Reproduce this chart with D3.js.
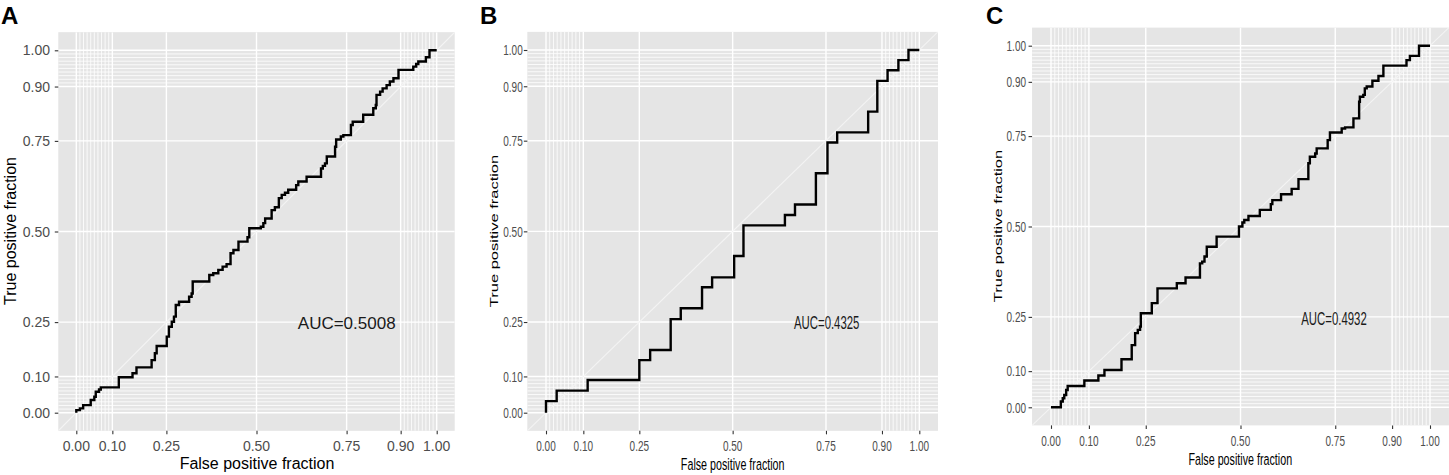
<!DOCTYPE html>
<html><head><meta charset="utf-8">
<script src="https://cdn.jsdelivr.net/npm/d3@7"></script>
<style>body{margin:0;background:#fff}svg{display:block}</style>
</head><body>
<svg id="chart" width="1449" height="475"></svg>
<script>
// ---- data ----
const majorBreaks = [0, 0.1, 0.25, 0.5, 0.75, 0.9, 1];
const tickLabels = ["0.00", "0.10", "0.25", "0.50", "0.75", "0.90", "1.00"];
const minorBreaks = [0.01, 0.02, 0.03, 0.04, 0.05, 0.06, 0.07, 0.08, 0.09,
                     0.91, 0.92, 0.93, 0.94, 0.95, 0.96, 0.97, 0.98, 0.99];
const panelLetters = ["A", "B", "C"];
const aucLabels = ["AUC=0.5008", "AUC=0.4325", "AUC=0.4932"];
const xTitle = "False positive fraction";
const yTitle = "True positive fraction";

// ROC step points (fpr at which TPR rises, TPR after rise)
const fprA = [0, 0, 0.010, 0.019, 0.040, 0.050, 0.054, 0.063, 0.068, 0.118, 0.156, 0.167, 0.209, 0.218, 0.223,
  0.251, 0.257, 0.265, 0.271, 0.276, 0.285, 0.313, 0.320, 0.323, 0.369, 0.380, 0.394, 0.406, 0.417, 0.428,
  0.436, 0.450, 0.475, 0.480, 0.512, 0.519, 0.524, 0.542, 0.551, 0.562, 0.570, 0.579, 0.588, 0.610, 0.616,
  0.639, 0.679, 0.684, 0.690, 0.695, 0.718, 0.721, 0.734, 0.741, 0.762, 0.767, 0.796, 0.824, 0.831, 0.833,
  0.843, 0.850, 0.861, 0.870, 0.880, 0.894, 0.935, 0.943, 0.949, 0.970, 0.980, 1.0];
const tprA = [0, 0.007, 0.012, 0.021, 0.035, 0.044, 0.058, 0.064, 0.070, 0.098, 0.109, 0.125, 0.145, 0.164, 0.184,
  0.210, 0.237, 0.251, 0.265, 0.297, 0.306, 0.320, 0.329, 0.362, 0.380, 0.385, 0.394, 0.403, 0.410, 0.440,
  0.449, 0.472, 0.484, 0.509, 0.513, 0.523, 0.536, 0.559, 0.567, 0.592, 0.601, 0.607, 0.615, 0.628, 0.638,
  0.651, 0.674, 0.681, 0.688, 0.707, 0.734, 0.754, 0.762, 0.766, 0.794, 0.803, 0.822, 0.840, 0.849, 0.877,
  0.886, 0.895, 0.904, 0.914, 0.923, 0.946, 0.955, 0.962, 0.969, 0.981, 1.0, 1.0];

const fprB = [0, 0, 0.0286, 0.1116, 0.250, 0.279, 0.334, 0.361, 0.418, 0.445, 0.504, 0.529, 0.640, 0.667,
  0.723, 0.754, 0.780, 0.863, 0.8875, 0.915, 0.944, 0.971, 1.0];
const tprB = [0, 0.032, 0.061, 0.090, 0.145, 0.173, 0.258, 0.288, 0.346, 0.373, 0.432, 0.5165, 0.545, 0.574,
  0.660, 0.745, 0.773, 0.830, 0.915, 0.944, 0.972, 1.0, 1.0];

const fprC = [0, 0.026, 0.031, 0.035, 0.040, 0.044, 0.088, 0.125, 0.141, 0.186, 0.213, 0.222, 0.229, 0.235,
  0.237, 0.266, 0.281, 0.332, 0.355, 0.393, 0.399, 0.405, 0.411, 0.437, 0.496, 0.505, 0.510, 0.521, 0.551,
  0.580, 0.584, 0.607, 0.635, 0.653, 0.679, 0.683, 0.697, 0.701, 0.730, 0.736, 0.767, 0.776, 0.798, 0.813,
  0.815, 0.824, 0.828, 0.833, 0.848, 0.864, 0.877, 0.938, 0.947, 0.971, 1.0];
const tprC = [0, 0.016, 0.025, 0.034, 0.048, 0.059, 0.074, 0.088, 0.103, 0.133, 0.172, 0.205, 0.214, 0.223,
  0.260, 0.288, 0.329, 0.343, 0.359, 0.398, 0.403, 0.417, 0.444, 0.472, 0.500, 0.511, 0.518, 0.529, 0.546,
  0.562, 0.573, 0.589, 0.604, 0.631, 0.675, 0.693, 0.702, 0.716, 0.739, 0.760, 0.771, 0.774, 0.799, 0.845,
  0.859, 0.864, 0.882, 0.887, 0.903, 0.916, 0.945, 0.960, 0.972, 1.0, 1.0];

// ---- layout ----
const panels = [
  { fpr: fprA, tpr: tprA, x0: 76.3, x1: 436.7, y0: 412.7, y1: 50.3, sx: 1, tickFont: 14, titleFont: 16, aucFont: 17, tickSx: 1,
    letter: [1, 24], yTitlePos: [10, 231], xTitlePos: [257, 463], xTickY: 446, yTickRight: 50, aucPos: [346.7, 323] },
  { fpr: fprB, tpr: tprB, x0: 546, x1: 919.3, y0: 412.7, y1: 50, sx: 0.65, tickFont: 14.5, titleFont: 16.5, aucFont: 17.5, tickSx: 0.69,
    letter: [480, 24], yTitlePos: [494.6, 231], xTitlePos: [732.7, 464.3], xTickY: 446, yTickRight: 522.7, aucPos: [826.7, 323] },
  { fpr: fprC, tpr: tprC, x0: 1051, x1: 1430, y0: 407.3, y1: 45.7, sx: 0.65, tickFont: 14.5, titleFont: 16.5, aucFont: 17.5, tickSx: 0.69,
    letter: [986, 24], yTitlePos: [998.3, 226], xTitlePos: [1240.3, 459.3], xTickY: 441, yTickRight: 1026, aucPos: [1334, 319] }
];

const svg = d3.select("#chart");
const FONT = "Liberation Sans, Arial, Helvetica, sans-serif";

panels.forEach((p, i) => {
  const x = d3.scaleLinear().domain([0, 1]).range([p.x0, p.x1]);
  const y = d3.scaleLinear().domain([0, 1]).range([p.y0, p.y1]);
  const left = x(-0.05), right = Math.min(x(1.05), 1449), top = y(1.05), bottom = y(-0.05);
  const g = svg.append("g");

  const clipId = "clip" + i;
  g.append("clipPath").attr("id", clipId).append("rect")
    .attr("x", left).attr("y", top).attr("width", right - left).attr("height", bottom - top);

  g.append("rect").attr("x", left).attr("y", top).attr("width", right - left).attr("height", bottom - top)
    .attr("fill", "#e5e5e5");

  const grid = g.append("g").attr("clip-path", `url(#${clipId})`);
  grid.selectAll(".vmin").data(minorBreaks).enter().append("line")
    .attr("x1", d => x(d)).attr("x2", d => x(d)).attr("y1", top).attr("y2", bottom)
    .attr("stroke", "#fff").attr("stroke-width", 0.8);
  grid.selectAll(".hmin").data(minorBreaks).enter().append("line")
    .attr("y1", d => y(d)).attr("y2", d => y(d)).attr("x1", left).attr("x2", right)
    .attr("stroke", "#fff").attr("stroke-width", 0.8);
  grid.selectAll(".vmaj").data(majorBreaks).enter().append("line")
    .attr("x1", d => x(d)).attr("x2", d => x(d)).attr("y1", top).attr("y2", bottom)
    .attr("stroke", "#fff").attr("stroke-width", 1.4);
  grid.selectAll(".hmaj").data(majorBreaks).enter().append("line")
    .attr("y1", d => y(d)).attr("y2", d => y(d)).attr("x1", left).attr("x2", right)
    .attr("stroke", "#fff").attr("stroke-width", 1.4);
  grid.append("line")
    .attr("x1", x(-0.05)).attr("y1", y(-0.05)).attr("x2", x(1.05)).attr("y2", y(1.05))
    .attr("stroke", "#f4f4f4").attr("stroke-width", 1.1);

  const pts = p.fpr.map((f, k) => [f, p.tpr[k]]);
  const line = d3.line().x(d => x(d[0])).y(d => y(d[1])).curve(d3.curveStepAfter);
  grid.append("path").attr("d", line(pts)).attr("fill", "none")
    .attr("stroke", "#000").attr("stroke-width", 2.4).attr("stroke-linejoin", "miter");

  const xAxis = d3.axisBottom(x).tickValues(majorBreaks).tickSize(3.5).tickFormat("");
  const gx = g.append("g").attr("transform", `translate(0,${bottom})`).call(xAxis);
  gx.select(".domain").remove();
  gx.selectAll(".tick line").attr("stroke", "#333").attr("stroke-width", 1.1);
  const yAxis = d3.axisLeft(y).tickValues(majorBreaks).tickSize(3.5).tickFormat("");
  const gy = g.append("g").attr("transform", `translate(${left},0)`).call(yAxis);
  gy.select(".domain").remove();
  gy.selectAll(".tick line").attr("stroke", "#333").attr("stroke-width", 1.1);

  g.selectAll(".xl").data(majorBreaks).enter().append("text")
    .attr("transform", (d) => `translate(${x(d)},${p.xTickY}) scale(${p.tickSx},1)`)
    .attr("text-anchor", "middle").attr("dy", "0.36em")
    .attr("font-family", FONT).attr("font-size", p.tickFont).attr("fill", "#4d4d4d")
    .text((d, k) => tickLabels[k]);
  g.selectAll(".yl").data(majorBreaks).enter().append("text")
    .attr("transform", (d) => `translate(${p.yTickRight},${y(d)}) scale(${p.tickSx},1)`)
    .attr("text-anchor", "end").attr("dy", "0.36em")
    .attr("font-family", FONT).attr("font-size", p.tickFont).attr("fill", "#4d4d4d")
    .text((d, k) => tickLabels[k]);

  g.append("text")
    .attr("transform", `translate(${p.xTitlePos[0]},${p.xTitlePos[1]}) scale(${p.sx},1)`)
    .attr("text-anchor", "middle").attr("dy", "0.36em")
    .attr("font-family", FONT).attr("font-size", p.titleFont).attr("fill", "#000")
    .text(xTitle);
  g.append("text")
    .attr("transform", `translate(${p.yTitlePos[0]},${p.yTitlePos[1]}) scale(${p.sx},1) rotate(-90)`)
    .attr("text-anchor", "middle").attr("dy", "0.36em")
    .attr("font-family", FONT).attr("font-size", p.titleFont).attr("fill", "#000")
    .text(yTitle);

  g.append("text")
    .attr("transform", `translate(${p.aucPos[0]},${p.aucPos[1]}) scale(${p.sx},1)`)
    .attr("text-anchor", "middle").attr("dy", "0.36em")
    .attr("font-family", FONT).attr("font-size", p.aucFont).attr("fill", "#1a1a1a")
    .text(aucLabels[i]);

  g.append("text").attr("x", p.letter[0]).attr("y", p.letter[1])
    .attr("font-family", FONT).attr("font-size", 24).attr("font-weight", "bold").attr("fill", "#000")
    .text(panelLetters[i]);
});
</script>
</body></html>
